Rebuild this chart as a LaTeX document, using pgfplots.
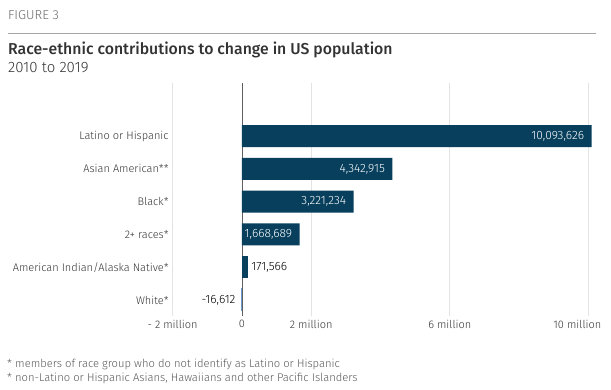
\documentclass[border=0pt]{standalone}
\usepackage{pgfplots}
\pgfplotsset{compat=1.18}
\usepackage{fontspec}
\setmainfont{Fira Sans}[UprightFont=* Light, BoldFont=* Medium]
\definecolor{navy}{HTML}{073F5C}
\definecolor{lightb}{HTML}{6B9BD1}
\definecolor{txt}{HTML}{333333}
\begin{document}
\begin{tikzpicture}[x=1pt,y=1pt]
\path[use as bounding box] (0,0) rectangle (611,389);
\node[anchor=west,inner sep=0pt,text=gray!85!black,font=\fontsize{13}{15}\selectfont] at (8,389-15) {FIGURE 3};
\draw[gray!70,line width=0.8pt] (8,389-33) -- (596,389-33);
\node[anchor=west,text=txt,inner sep=0pt,font=\bfseries\fontsize{15.8}{18}\selectfont] at (8,389-50) {Race-ethnic contributions to change in US population};
\node[anchor=west,text=txt,inner sep=0pt,font=\fontsize{15}{17}\selectfont] at (8,389-68) {2010 to 2019};
\node[anchor=west,text=gray!70!black,inner sep=0pt,font=\fontsize{11.2}{13}\selectfont] at (7,389-364) {* members of race group who do not identify as Latino or Hispanic};
\node[anchor=west,text=gray!70!black,inner sep=0pt,font=\fontsize{11.2}{13}\selectfont] at (7,389-378) {* non-Latino or Hispanic Asians, Hawaiians and other Pacific Islanders};
\begin{axis}[
  at={(172.6pt,73pt)}, anchor=south west,
  scale only axis, width=426.2pt, height=233pt,
  xmin=-2000000, xmax=10300000, ymin=-0.49, ymax=6.62,
  xbar, bar width=22pt, bar shift=0pt,
  axis line style={draw=none},
  major tick length=0pt,
  xtick={-2000000,0,2000000,6000000,10000000},
  xticklabels={- 2 million,0,2 million,6 million,\hspace*{-22pt}10 million},
  scaled x ticks=false,
  xmajorgrids, grid style={gray!22, line width=0.8pt},
  extra x ticks={0}, extra x tick labels={},
  extra x tick style={grid style={gray!75!black, line width=0.8pt}},
  ytick={0,1,2,3,4,5},
  yticklabels={White*,American Indian/Alaska Native*,2+ races*,Black*,Asian American**,Latino or Hispanic},
  ticklabel style={font=\fontsize{11}{13}\selectfont, text=txt},
  yticklabel style={xshift=-0.5pt},
  xticklabel style={yshift=-1pt},
  point meta=explicit symbolic,
  nodes near coords,
  every node near coord/.append style={font=\fontsize{12}{14}\selectfont},
]
\addplot[fill=navy, draw=none, nodes near coords style={anchor=east, xshift=-4pt, text=white}]
  table[meta=lab] {
x y lab
10093626 5 10,093,626
4342915 4 4,342,915
3221234 3 3,221,234
1668689 2 1,668,689
};
\addplot[fill=navy, draw=none, nodes near coords style={anchor=west, xshift=0pt, text=black}]
  table[meta=lab] {
x y lab
171566 1 171,566
};
\addplot[fill=lightb, draw=lightb, line width=1pt, nodes near coords style={anchor=east, xshift=-2pt, text=black}]
  table[meta=lab] {
x y lab
-16612 0 -16,612
};
\end{axis}
\end{tikzpicture}
\end{document}
